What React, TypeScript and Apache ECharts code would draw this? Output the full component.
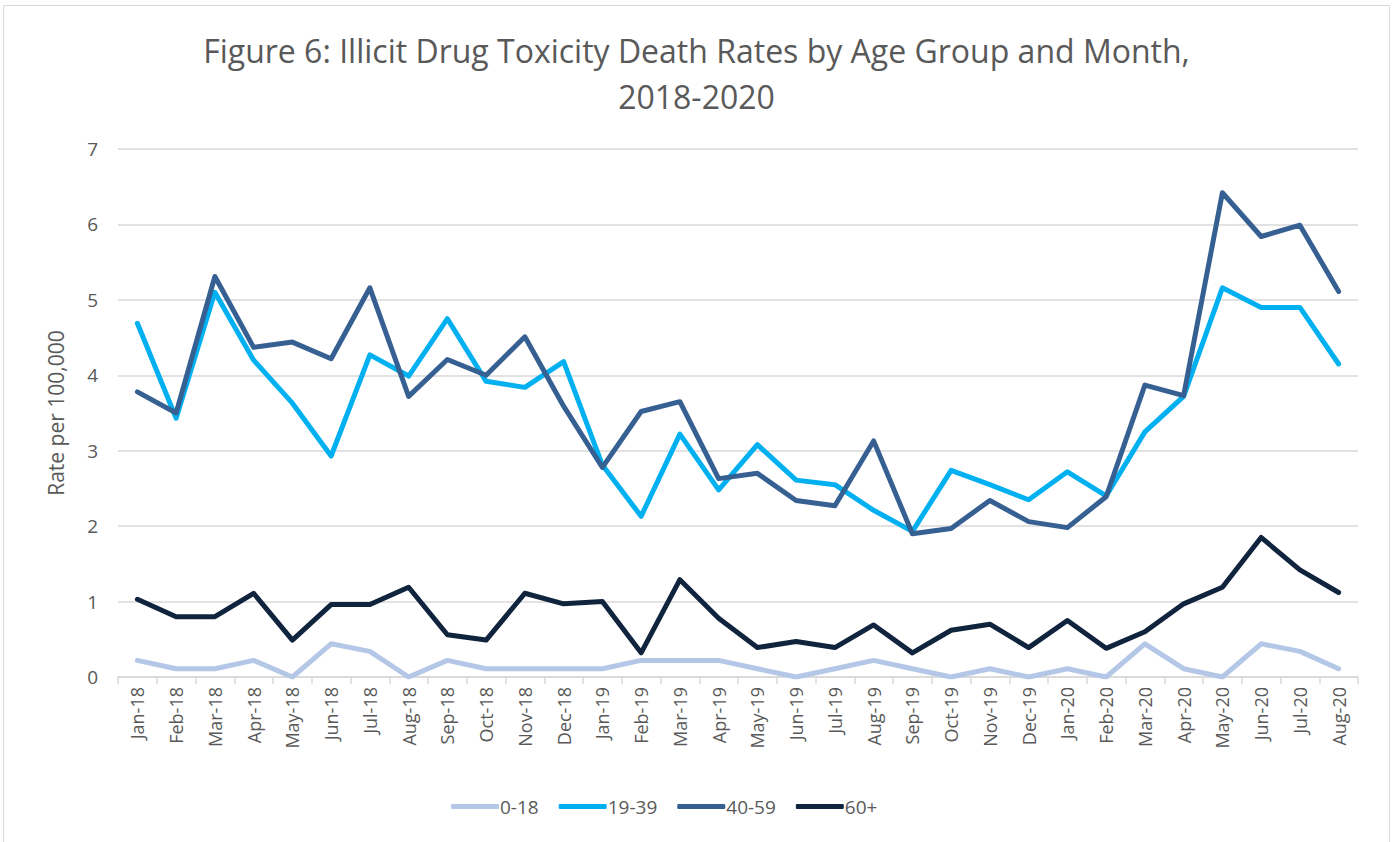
import React, { useEffect, useRef } from "react";
import * as echarts from "echarts";

const months = [
  "Jan-18","Feb-18","Mar-18","Apr-18","May-18","Jun-18","Jul-18","Aug-18","Sep-18","Oct-18","Nov-18","Dec-18",
  "Jan-19","Feb-19","Mar-19","Apr-19","May-19","Jun-19","Jul-19","Aug-19","Sep-19","Oct-19","Nov-19","Dec-19",
  "Jan-20","Feb-20","Mar-20","Apr-20","May-20","Jun-20","Jul-20","Aug-20",
];

const age0to18 = [
  0.22, 0.11, 0.11, 0.22, 0.0, 0.44, 0.34, 0.0, 0.22, 0.11, 0.11, 0.11,
  0.11, 0.22, 0.22, 0.22, 0.11, 0.0, 0.11, 0.22, 0.11, 0.0, 0.11, 0.0,
  0.11, 0.0, 0.44, 0.11, 0.0, 0.44, 0.34, 0.11,
];

const age19to39 = [
  4.69, 3.43, 5.1, 4.2, 3.63, 2.93, 4.27, 3.99, 4.75, 3.92, 3.84, 4.18,
  2.81, 2.13, 3.22, 2.48, 3.08, 2.61, 2.55, 2.21, 1.93, 2.74, 2.55, 2.35,
  2.72, 2.4, 3.25, 3.72, 5.16, 4.9, 4.9, 4.15,
];

const age40to59 = [
  3.78, 3.5, 5.31, 4.37, 4.44, 4.22, 5.16, 3.72, 4.21, 4.0, 4.51, 3.59,
  2.78, 3.52, 3.65, 2.63, 2.7, 2.34, 2.27, 3.13, 1.9, 1.97, 2.34, 2.06,
  1.98, 2.39, 3.87, 3.73, 6.42, 5.84, 5.99, 5.11,
];

const age60plus = [
  1.03, 0.8, 0.8, 1.11, 0.49, 0.96, 0.96, 1.19, 0.56, 0.49, 1.11, 0.97,
  1.0, 0.32, 1.29, 0.78, 0.39, 0.47, 0.39, 0.69, 0.32, 0.62, 0.7, 0.39,
  0.75, 0.38, 0.6, 0.97, 1.19, 1.85, 1.42, 1.12,
];

const seriesNames = ["0-18", "19-39", "40-59", "60+"];
const seriesColors = ["#B4C7E7", "#00B0F0", "#376092", "#10243E"];
const seriesData = [age0to18, age19to39, age40to59, age60plus];

const FONT = "'Open Sans', 'Noto Sans', sans-serif";
const TXT = "#595959";

export default function App() {
  const ref = useRef<HTMLDivElement>(null);
  useEffect(() => {
    if (!ref.current) return;
    const chart = echarts.init(ref.current, undefined, { renderer: "svg" });
    chart.setOption({
      animation: false,
      backgroundColor: "#ffffff",
      textStyle: { fontFamily: FONT },
      title: {
        text: "Figure 6: Illicit Drug Toxicity Death Rates by Age Group and Month,\n2018-2020",
        left: "center",
        top: 22,
        textStyle: {
          fontFamily: FONT,
          fontSize: 32,
          fontWeight: "normal",
          color: TXT,
          lineHeight: 46,
        },
      },
      graphic: [
        {
          type: "rect",
          shape: { x: 3.5, y: 5.5, width: 1386, height: 840 },
          style: { fill: "none", stroke: "#d9d9d9", lineWidth: 1 },
          silent: true,
        },
      ],
      legend: {
        bottom: 21,
        left: 446,
        itemWidth: 48,
        itemHeight: 5,
        itemGap: 20,
        icon: "roundRect",
        textStyle: { fontFamily: FONT, fontSize: 19, color: TXT, padding: [0, 0, 0, -4] },
        data: seriesNames,
      },
      grid: { left: 118, right: 35, top: 149, bottom: 165 },
      xAxis: {
        type: "category",
        data: months,
        boundaryGap: true,
        axisLine: { show: true, lineStyle: { color: "#d9d9d9", width: 1.5 } },
        axisTick: { show: true, alignWithLabel: false, length: 7, lineStyle: { color: "#d9d9d9", width: 1.5 } },
        axisLabel: {
          rotate: 90,
          interval: 0,
          fontFamily: FONT,
          fontSize: 18,
          color: TXT,
          margin: 10,
        },
      },
      yAxis: {
        type: "value",
        min: 0,
        max: 7,
        interval: 1,
        name: "Rate per 100,000",
        nameLocation: "middle",
        nameGap: 52,
        nameRotate: 90,
        nameTextStyle: { fontFamily: FONT, fontSize: 21, color: TXT },
        axisLine: { show: false },
        axisTick: { show: false },
        axisLabel: { fontFamily: FONT, fontSize: 19, color: TXT, margin: 20 },
        splitLine: { lineStyle: { color: "#d9d9d9", width: 1.5 } },
      },
      series: seriesNames.map((name, i) => ({
        name,
        type: "line",
        data: seriesData[i],
        symbol: "none",
        showSymbol: false,
        lineStyle: { color: seriesColors[i], width: 5, cap: "round", join: "round" },
        itemStyle: { color: seriesColors[i] },
        z: 2 + i,
      })),
    });
    return () => chart.dispose();
  }, []);
  return (
    <div
      ref={ref}
      style={{ position: "fixed", left: 0, top: 0, width: 1393, height: 842 }}
    />
  );
}
